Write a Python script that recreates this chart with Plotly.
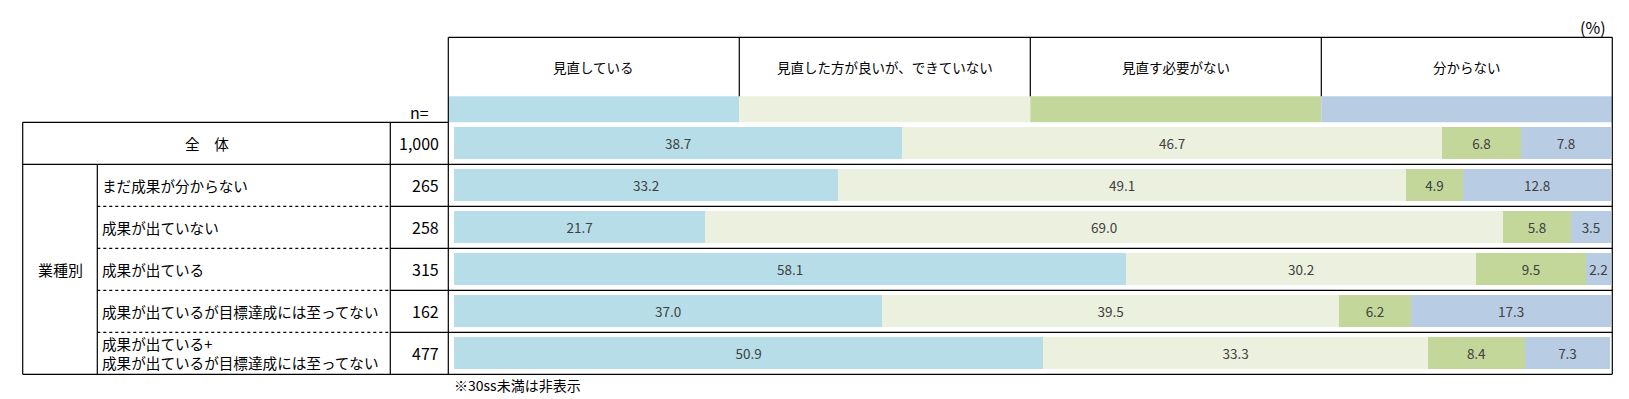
import plotly.graph_objects as go

W, H = 1629, 399
FONT = "Noto Sans CJK JP"

# ---------------- data ----------------
row_labels = [
    "全　体",
    "まだ成果が分からない",
    "成果が出ていない",
    "成果が出ている",
    "成果が出ているが目標達成には至ってない",
    "成果が出ている+<br>成果が出ているが目標達成には至ってない",
]
group_label = "業種別"
n_values = ["1,000", "265", "258", "315", "162", "477"]

series_names = ["見直している", "見直した方が良いが、できていない", "見直す必要がない", "分からない"]
s_review = [38.7, 33.2, 21.7, 58.1, 37.0, 50.9]
s_should = [46.7, 49.1, 69.0, 30.2, 39.5, 33.3]
s_noneed = [6.8, 4.9, 5.8, 9.5, 6.2, 8.4]
s_unknown = [7.8, 12.8, 3.5, 2.2, 17.3, 7.3]
series_values = [s_review, s_should, s_noneed, s_unknown]
colors = ["#B7DEE8", "#EBF1DE", "#C4D79B", "#B8CCE4"]

footnote = "※30ss未満は非表示"
unit_label = "(%)"
n_header = "n="

# ---------------- layout geometry (pixels) ----------------
TBL_L, CAT_X, NCOL_L, CH_L, CH_R = 22.7, 97.3, 390.3, 448.3, 1612.3
HDR_T, STRIP_T, TBL_T, TBL_B = 37.3, 96.3, 122.3, 374.3
BAR_L, BAR_R = 454, 1611


def px(x):
    return x / W


def py(y):
    return 1 - y / H


rows = list(range(len(row_labels)))

fig = go.Figure()
for name, vals, col in zip(series_names, series_values, colors):
    fig.add_trace(go.Bar(
        y=rows, x=vals, name=name, orientation="h",
        marker=dict(color=col, line=dict(width=0)),
        width=0.755,
        text=[f"{v:.1f}" for v in vals],
        textposition="inside", insidetextanchor="middle",
        textfont=dict(family=FONT, size=13.5, color="#404040"),
        hoverinfo="skip",
    ))

shapes = []


def line(x0, y0, x1, y1, dash="solid", xref="paper", yref="paper"):
    shapes.append(dict(type="line", xref=xref, yref=yref, x0=x0, y0=y0, x1=x1, y1=y1,
                       line=dict(color="black", width=1.2, dash=dash)))


# header frame
line(px(CH_L), py(HDR_T), px(CH_R), py(HDR_T))
line(px(CH_L), py(HDR_T), px(CH_L), py(TBL_B))
line(px(CH_R), py(HDR_T), px(CH_R), py(TBL_B))
colw = (CH_R - CH_L) / len(series_names)
for k in range(1, len(series_names)):
    line(px(CH_L + k * colw), py(HDR_T), px(CH_L + k * colw), py(STRIP_T))
# colour strip (legend keys)
for k, col in enumerate(colors):
    shapes.append(dict(type="rect", xref="paper", yref="paper",
                       x0=px(CH_L + k * colw), x1=px(CH_L + (k + 1) * colw),
                       y0=py(TBL_T), y1=py(STRIP_T), fillcolor=col, line=dict(width=0), layer="below"))
# table frame
line(px(TBL_L), py(TBL_T), px(CH_L), py(TBL_T))
line(px(TBL_L), py(TBL_T), px(TBL_L), py(TBL_B))
line(px(NCOL_L), py(TBL_T), px(NCOL_L), py(TBL_B))
line(px(CAT_X), len(rows) - 0.5, px(CAT_X), 0.5, yref="y")
line(px(TBL_L), py(TBL_B), px(CH_R), py(TBL_B))
# row separators (category boundaries on the y axis)
for i in rows[:-1]:
    yb = i + 0.5
    if i == 0:
        line(px(TBL_L), yb, px(CH_R), yb, yref="y")
    else:
        line(px(CAT_X), yb, px(NCOL_L), yb, dash="dot", yref="y")
        line(px(NCOL_L), yb, px(CH_R), yb, yref="y")

ann = []
for k, name in enumerate(series_names):
    ann.append(dict(text=name, xref="paper", yref="paper", x=px(CH_L + (k + 0.5) * colw), y=py(67),
                    xanchor="center", yanchor="middle", showarrow=False,
                    font=dict(family=FONT, size=13.5, color="black")))
for i, lab in enumerate(row_labels):
    if i == 0:
        ann.append(dict(text=lab, xref="paper", yref="y", x=px((TBL_L + NCOL_L) / 2), y=i,
                        xanchor="center", yanchor="middle", showarrow=False,
                        font=dict(family=FONT, size=14.6, color="black")))
    else:
        ann.append(dict(text=lab, xref="paper", yref="y", x=px(CAT_X + 3), y=i,
                        xanchor="left", yanchor="middle", align="left", showarrow=False,
                        font=dict(family=FONT, size=14.6, color="black")))
    ann.append(dict(text=n_values[i], xref="paper", yref="y", x=px(441), y=i,
                    xanchor="right", yanchor="middle", showarrow=False,
                    font=dict(family=FONT, size=16, color="black")))
ann.append(dict(text=group_label, xref="paper", yref="y", x=px((TBL_L + CAT_X) / 2), y=(1 + rows[-1]) / 2,
                xanchor="center", yanchor="middle", showarrow=False,
                font=dict(family=FONT, size=15, color="black")))
ann.append(dict(text=n_header, xref="paper", yref="paper", x=px(419), y=py(112),
                xanchor="center", yanchor="middle", showarrow=False,
                font=dict(family=FONT, size=16, color="black")))
ann.append(dict(text=unit_label, xref="paper", yref="paper", x=px(1608), y=py(27),
                xanchor="right", yanchor="middle", showarrow=False,
                font=dict(family=FONT, size=16, color="black")))
ann.append(dict(text=footnote, xref="paper", yref="paper", x=px(452), y=py(385),
                xanchor="left", yanchor="middle", showarrow=False,
                font=dict(family=FONT, size=14, color="black")))

fig.update_layout(
    width=W, height=H, margin=dict(l=0, r=0, t=0, b=0),
    paper_bgcolor="white", plot_bgcolor="white",
    barmode="stack", showlegend=False, bargap=0,
    uniformtext=dict(minsize=13.5, mode="show"),
    xaxis=dict(domain=[px(BAR_L), px(BAR_R)], range=[0, 100], visible=False, fixedrange=True),
    yaxis=dict(domain=[py(TBL_B), py(TBL_T)], range=[len(rows) - 0.5, -0.5], visible=False, fixedrange=True),
    shapes=shapes, annotations=ann,
    font=dict(family=FONT),
)

fig.write_html("out.html", config={"displayModeBar": False},
               post_script="document.body.style.margin='0px';document.body.style.overflow='hidden';")
